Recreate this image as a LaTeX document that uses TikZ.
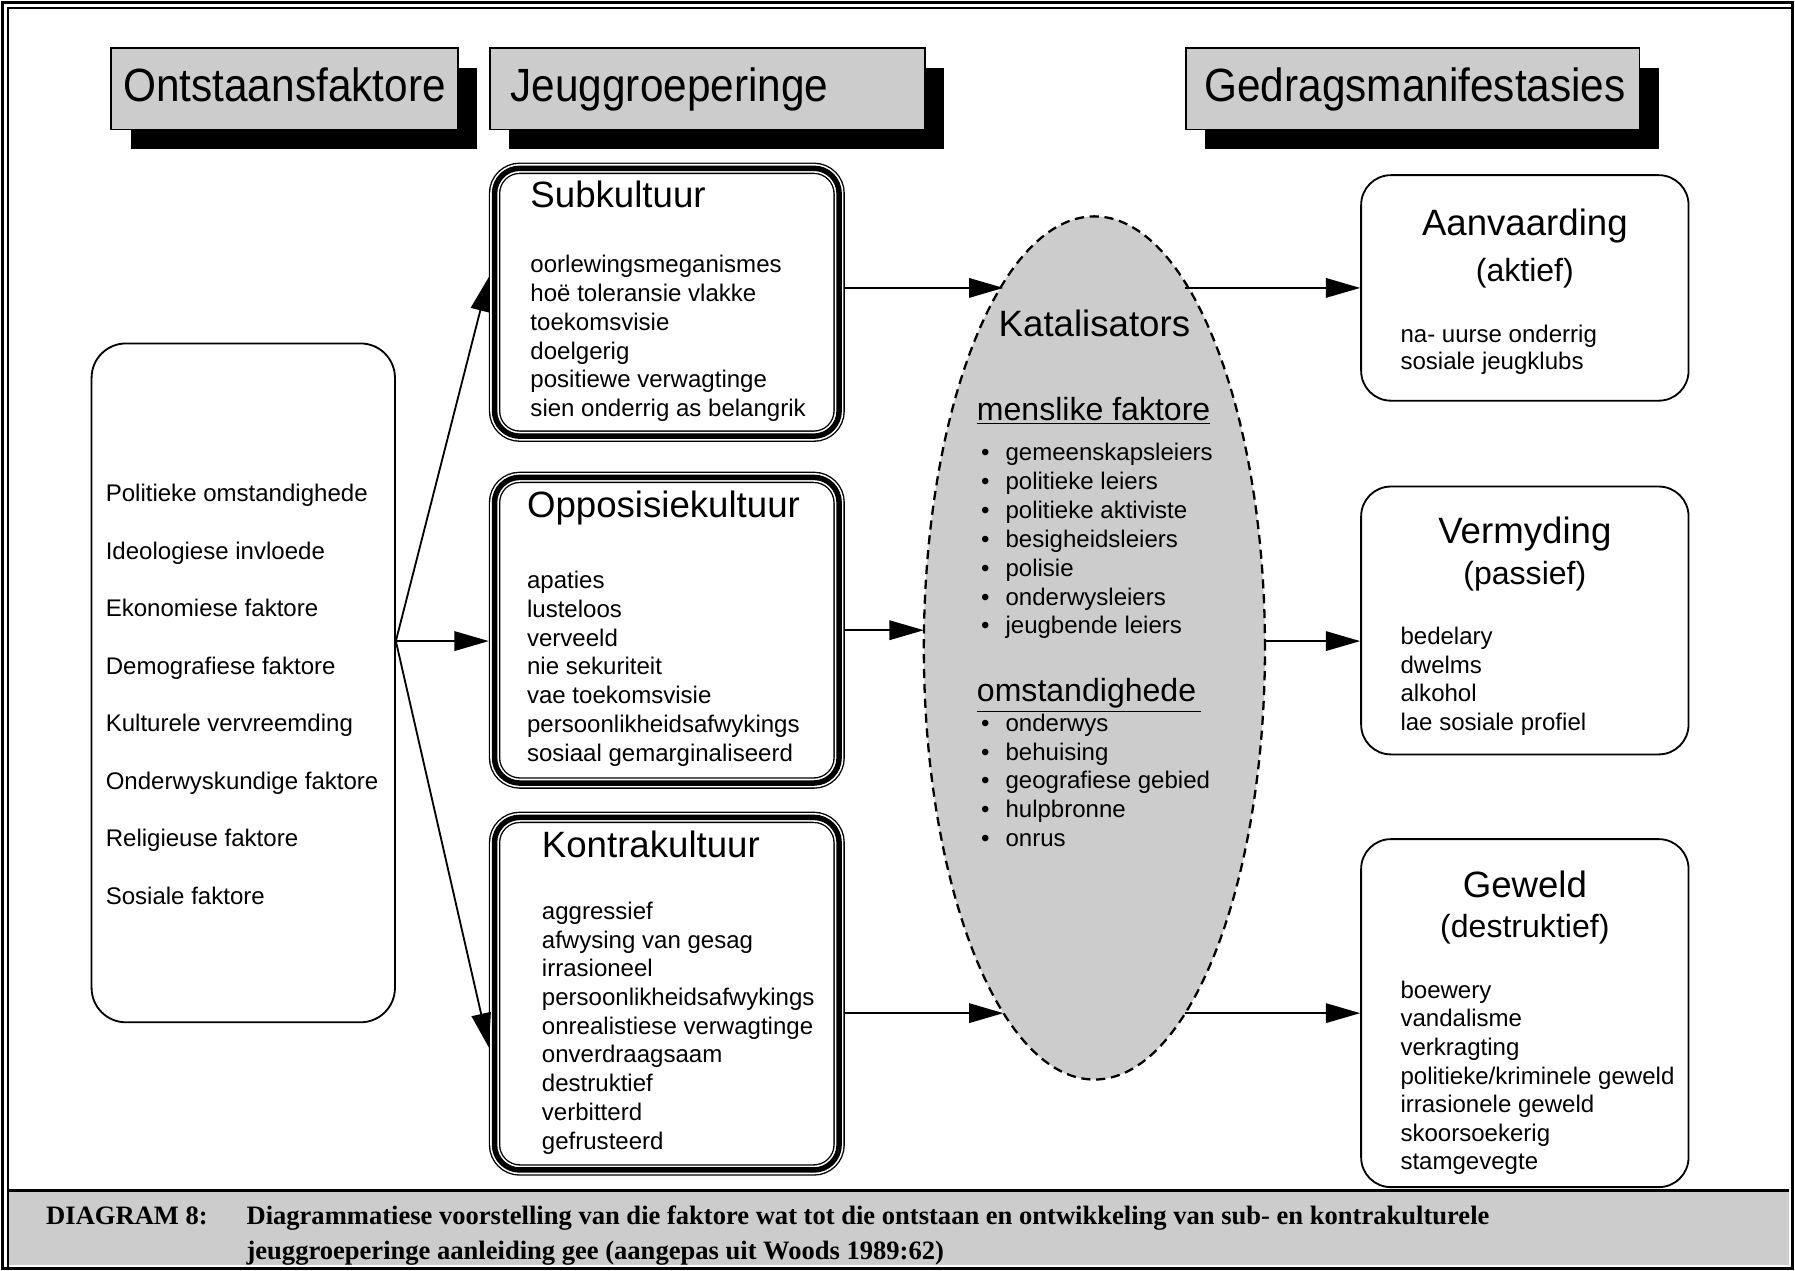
\documentclass[tikz,border=0pt]{standalone}
\usepackage{fontspec}
\setmainfont{Liberation Sans}
\newfontfamily\capfont{Liberation Serif}
\usetikzlibrary{arrows.meta,shapes.geometric,shadows}
\definecolor{bggray}{gray}{0.80}
\begin{document}
\begin{tikzpicture}[x=0.5pt,y=-0.5pt,
 hdr/.style={draw, line width=0.6pt, fill=bggray,
   drop shadow={shadow xshift=8.5pt,shadow yshift=-8.5pt,fill=black,opacity=1},
   minimum height=35.5pt, inner ysep=0pt, text height=14.5pt, text depth=3.5pt,
   font=\fontsize{18.5}{22}\selectfont},
 grp/.style={draw, line width=2.4pt, rounded corners=11pt, minimum width=150.5pt,
   inner sep=0pt, outer sep=2.5pt,
   preaction={draw, line width=0.6pt, double=white, double distance=3.8pt}},
 res/.style={draw, line width=0.8pt, rounded corners=13pt, minimum width=143pt, inner sep=0pt},
 item/.style={anchor=base west, inner sep=0pt, font=\fontsize{10.5}{12.5}\selectfont},
 ttl/.style={anchor=base west, inner sep=0pt, font=\fontsize{16}{19}\selectfont},
 rttl/.style={anchor=base, inner sep=0pt, font=\fontsize{16}{19}\selectfont},
 rsub/.style={anchor=base, inner sep=0pt, font=\fontsize{14}{17}\selectfont},
 sect/.style={anchor=base west, inner sep=0pt, font=\fontsize{14}{17}\selectfont},
 captext/.style={anchor=base west, inner sep=0pt, font=\capfont\bfseries\fontsize{11.6}{13}\selectfont},
 arr/.style={line width=0.8pt, -{Triangle[length=15pt,width=8.5pt]}},
]
\useasboundingbox (0,0) rectangle (1568,1110);

% outer frame and caption band
\fill[bggray] (8,1040) rectangle (1563,1105);
\draw[line width=1.2pt] (8,1040) -- (1563,1040);
\draw[line width=1.2pt] (2,2) rectangle (1566,1108);
\draw[line width=0.6pt] (7,1108) -- (7,7) -- (1566,7);

% headers
\node[hdr, minimum width=151.5pt, text width=142.5pt, align=center] (hont) at (248.5,77.5) {\scalebox{1}[1.1]{Ontstaansfaktore}};
\node[hdr, minimum width=190pt, inner xsep=9pt, text width=172pt, align=left] (hjeug) at (618,77.5) {\scalebox{1}[1.1]{Jeuggroeperinge}};
\node[hdr, minimum width=198pt, inner xsep=8pt, text width=182pt, align=left] (hged) at (1234,77.5) {\scalebox{1}[1.1]{Gedragsmanifestasies}};

% left box
\node[draw, line width=0.8pt, rounded corners=15pt, minimum width=132.5pt, minimum height=296.5pt, inner sep=0pt] (lf) at (212.5,596.5) {};
\foreach \t [count=\i from 0] in {Politieke omstandighede, Ideologiese invloede, Ekonomiese faktore, Demografiese faktore, Kulturele vervreemding, Onderwyskundige faktore, Religieuse faktore, Sosiale faktore}
  \node[item] (l\i) at (92,438+50.3*\i) {\t};

% group boxes
\node[grp, minimum height=117pt] (sub) at (582.5,264) {};
\node[grp, minimum height=133.5pt] (opp) at (582.5,550.5) {};
\node[grp, minimum height=154pt] (kon) at (582.5,868) {};

\node[ttl] (subt) at (463,181) {Subkultuur};
\foreach \t [count=\i from 0] in {oorlewingsmeganismes, hoë toleransie vlakke, toekomsvisie, doelgerig, positiewe verwagtinge, sien onderrig as belangrik}
  \node[item] (s\i) at (463,238+25.2*\i) {\t};

\node[ttl] (oppt) at (460,452) {Opposisiekultuur};
\foreach \t [count=\i from 0] in {apaties, lusteloos, verveeld, nie sekuriteit, vae toekomsvisie, persoonlikheidsafwykings, sosiaal gemarginaliseerd}
  \node[item] (o\i) at (460,514+25.2*\i) {\t};

\node[ttl] (kont) at (473,749) {Kontrakultuur};
\foreach \t [count=\i from 0] in {aggressief, afwysing van gesag, irrasioneel, persoonlikheidsafwykings, onrealistiese verwagtinge, onverdraagsaam, destruktief, verbitterd, gefrusteerd}
  \node[item] (k\i) at (473,803+25.1*\i) {\t};

% catalyst ellipse
\node[ellipse, draw, line width=1pt, dash pattern=on 4pt off 2.5pt, fill=bggray,
      minimum width=149pt, minimum height=377pt, inner sep=0pt, outer sep=0pt] (kat) at (956,566) {};
\node[anchor=base, inner sep=0pt, font=\fontsize{16}{19}\selectfont] (katt) at (956,294) {Katalisators};
\node[sect] (mf) at (853,367) {\underline{menslike faktore}};
\foreach \t [count=\i from 0] in {gemeenskapsleiers, politieke leiers, politieke aktiviste, besigheidsleiers, polisie, onderwysleiers, jeugbende leiers}
  \node[item] (m\i) at (878,402+25.3*\i) {\llap{•\hspace{7pt}}\t};
\node[sect] (om) at (853,613) {\underline{omstandighede\,}};
\foreach \t [count=\i from 0] in {onderwys, behuising, geografiese gebied, hulpbronne, onrus}
  \node[item] (n\i) at (878,639+25*\i) {\llap{•\hspace{7pt}}\t};

% result boxes
\node[res, minimum height=98.5pt] (aan) at (1332,251.5) {};
\node[rttl] (aant) at (1332,206) {Aanvaarding};
\node[rsub] (aans) at (1332,246) {(aktief)};
\foreach \t [count=\i from 0] in {na- uurse onderrig, sosiale jeugklubs}
  \node[item] (a\i) at (1223,299+24*\i) {\t};

\node[res, minimum height=117pt] (ver) at (1332,542) {};
\node[rttl] (vert) at (1332,475) {Vermyding};
\node[rsub] (vers) at (1332,511) {(passief)};
\foreach \t [count=\i from 0] in {bedelary, dwelms, alkohol, lae sosiale profiel}
  \node[item] (v\i) at (1223,563+25*\i) {\t};

\node[res, minimum height=152pt] (gew) at (1332,885) {};
\node[rttl] (gewt) at (1332,784) {Geweld};
\node[rsub] (gews) at (1332,819) {(destruktief)};
\foreach \t [count=\i from 0] in {boewery, vandalisme, verkragting, {politieke/kriminele geweld}, irrasionele geweld, skoorsoekerig, stamgevegte}
  \node[item] (g\i) at (1223,872+25*\i) {\t};

% connectors
\coordinate (src) at ([yshift=18.25pt]lf.east);
\draw[arr] (src) -- ([yshift=11pt]sub.west);
\draw[arr] (src) -- (src -| opp.west);
\draw[arr] (src) -- ([yshift=-23.5pt]kon.west);
\draw[arr] (sub.east |- aan.west) -- (kat.104 |- aan.west);
\draw[arr] (kat.76 |- aan.west) -- (aan.west);
\draw[arr] (opp.east) -- (opp.east -| kat.west);
\coordinate (k2) at ([yshift=3pt]kat.east);
\draw[arr] (k2) -- (k2 -| ver.west);
\draw[arr] (kon.east |- gew.west) -- (kat.256 |- gew.west);
\draw[arr] (kat.284 |- gew.west) -- (gew.west);

% caption
\node[captext] (c1) at (40,1070) {DIAGRAM 8:};
\node[captext] (c2) at (215,1070) {Diagrammatiese voorstelling van die faktore wat tot die ontstaan en ontwikkeling van sub- en kontrakulturele};
\node[captext] (c3) at (215,1100) {jeuggroeperinge aanleiding gee (aangepas uit Woods 1989:62)};
\end{tikzpicture}
\end{document}
